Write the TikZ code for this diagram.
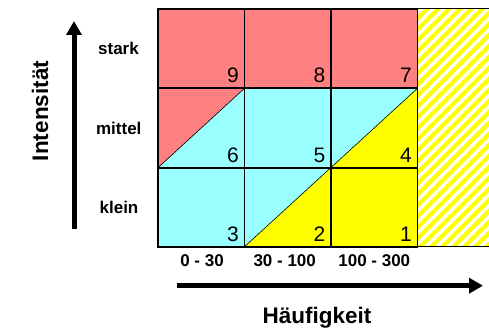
\documentclass[tikz,border=0pt]{standalone}
\usepackage{fontspec}
\setmainfont{Liberation Sans}
\usetikzlibrary{arrows.meta}
\definecolor{cred}{HTML}{FF8080}
\definecolor{ccyan}{HTML}{99FFFF}
\definecolor{cyel}{HTML}{FFFF00}
\tikzset{
  num/.style={anchor=base east, inner sep=0pt, font=\fontsize{21}{21}\selectfont},
  lbl/.style={anchor=base, inner sep=0pt, font=\bfseries\fontsize{17}{17}\selectfont},
  title/.style={anchor=base, inner sep=0pt, font=\bfseries\fontsize{22.5}{22.5}\selectfont},
  grid/.style={line width=1.9pt, line join=miter},
  diag/.style={line width=0.6pt},
  bigarrow/.style={line width=5pt, -{Triangle[length=14pt,width=15pt]}}
}
\begin{document}
\begin{tikzpicture}[x=1pt,y=-1pt]
\useasboundingbox (0,0) rectangle (489,331);
\def\Xa{158}\def\Xb{244.5}\def\Xc{331}\def\Xd{417.5}
\def\Ya{9}\def\Yb{88.3}\def\Yc{167.7}\def\Yd{246.7}
% hatched area
\begin{scope}
  \clip (\Xd,\Ya) rectangle (489,\Yd);
  \foreach \k in {-24,...,8}{
    \draw[cyel, line width=4.2pt] ({\Xd+\k*11},\Yd+3) -- ++(245,-245);
  }
\end{scope}
\draw[line width=1pt] (\Xd,\Ya) -- (489,\Ya);
\draw[line width=1.2pt] (\Xd,\Yd) -- (489,\Yd);
% fills
\fill[cred] (\Xa,\Ya) rectangle (\Xd,\Yb);
\fill[ccyan] (\Xa,\Yb) rectangle (\Xd,\Yd);
\fill[cred] (\Xa,\Yb) -- (\Xb,\Yb) -- (\Xa,\Yc) -- cycle;
\fill[cyel] (\Xc,\Yc) -- (\Xd,\Yb) -- (\Xd,\Yd) -- (\Xb,\Yd) -- cycle;
\draw[diag] (\Xa,\Yc) -- (\Xb,\Yb);
\draw[diag] (\Xb,\Yd) -- (\Xd,\Yb);
% grid
\draw[grid] (\Xb,\Ya) -- (\Xb,\Yd) (\Xc,\Ya) -- (\Xc,\Yd);
\draw[grid] (\Xa,\Yb) -- (\Xd,\Yb) (\Xa,\Yc) -- (\Xd,\Yc);
\draw[grid] (\Xa,\Ya) rectangle (\Xd,\Yd);
% numbers
\node[num] (n9) at (\Xb-5.5,\Yb-5.5) {9};
\node[num] (n8) at (\Xc-5.5,\Yb-5.5) {8};
\node[num] (n7) at (\Xd-5.5,\Yb-5.5) {7};
\node[num] (n6) at (\Xb-5.5,\Yc-5.5) {6};
\node[num] (n5) at (\Xc-5.5,\Yc-5.5) {5};
\node[num] (n4) at (\Xd-5.5,\Yc-5.5) {4};
\node[num] (n3) at (\Xb-5.5,\Yd-5) {3};
\node[num] (n2) at (\Xc-5.5,\Yd-5) {2};
\node[num] (n1) at (\Xd-5.5,\Yd-5) {1};
% row labels
\node[lbl] (stark) at (118.5,55) {stark};
\node[lbl] (mittel) at (118.8,135) {mittel};
\node[lbl] (klein) at (119,213.3) {klein};
% column labels
\node[lbl] (c1) at (202,266) {0 - 30};
\node[lbl] (c2) at (284.7,266) {30 - 100};
\node[lbl] (c3) at (374.3,266) {100 - 300};
% arrows
\coordinate (va) at (74,229);
\coordinate (vb) at (74,21);
\draw[bigarrow] (va) -- (vb);
\coordinate (ha) at (176.7,285.7);
\coordinate (hb) at (483,285.7);
\draw[bigarrow] (ha) -- (hb);
% titles
\node[title, rotate=90] (int) at (48,111) {Intensität};
\node[title] (hf) at (317,323.5) {Häufigkeit};
\end{tikzpicture}
\end{document}
